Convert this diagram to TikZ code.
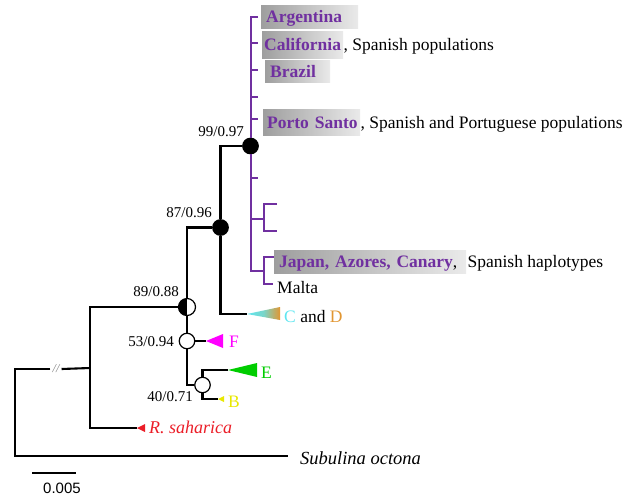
\documentclass[tikz,border=0pt]{standalone}
\usepackage{fontspec}
\setmainfont{Liberation Serif}
\newfontfamily\scalebarfont{Liberation Sans}

\definecolor{tipviolet}{RGB}{112,48,160}
\definecolor{boxdark}{RGB}{158,158,158}
\definecolor{boxlight}{RGB}{234,234,234}
\definecolor{cladeC}{RGB}{95,230,240}
\definecolor{cladeD}{RGB}{225,150,50}
\definecolor{cladeF}{RGB}{255,0,255}
\definecolor{cladeE}{RGB}{0,205,0}
\definecolor{cladeB}{RGB}{232,232,0}
\definecolor{sahred}{RGB}{235,30,40}

\tikzset{
  branch/.style={line width=2.1pt},
  purple branch/.style={line width=2pt, draw=tipviolet},
  support/.style={circle, draw, line width=1.2pt, fill=white, minimum size=15.5, inner sep=0},
  suplab/.style={font=\fontsize{15}{18}\selectfont, inner sep=0, anchor=base east},
  tiplab/.style={font=\fontsize{17.5}{21}\selectfont, inner sep=0, anchor=base west},
  hlbox/.style={font=\fontsize{17.5}{21}\selectfont\bfseries, text=tipviolet,
    left color=boxdark, right color=boxlight, anchor=base west, align=left,
    text height=13.5, text depth=2.5, inner ysep=0}
}

\begin{document}
\begin{tikzpicture}[x=1pt, y=-1pt]
  \useasboundingbox (0,0) rectangle (644,496);

  %Support nodes
  \node[support, fill=black] (n99) at (250.5,146) {};
  \node[support, fill=black] (n87) at (220.5,227.5) {};
  \node[support, minimum size=17, path picture={\fill[black] (path picture bounding box.south west) rectangle (path picture bounding box.north);}] (n89) at (187,307) {};
  \node[support] (n53) at (187,341) {};
  \node[support] (n40) at (202.5,385) {};

  %Tree points
  \coordinate (rootBot)  at (15,456);
  \coordinate (subTip)   at (288,456);
  \coordinate (ingroup)  at (90,368);
  \coordinate (sahTip)   at (137,428);
  \coordinate (cdTip)    at (247,314);
  \coordinate (fTip)     at (206,341);
  \coordinate (eTip)     at (228,370);
  \coordinate (bTip)     at (218,399);
  \node[text=gray, font=\fontsize{12}{14}\selectfont\itshape, inner xsep=2] (cut) at (56,369) {//};

  %Black branches
  \draw[branch] (cut.west) -| (rootBot) -- (subTip);
  \draw[branch] (cut.east) -- (ingroup);
  \draw[branch] (ingroup) |- (n89);
  \draw[branch] (ingroup) |- (sahTip);
  \draw[branch] (n89) |- (n87);
  \draw[branch] (n87) |- (n99);
  \draw[branch] (n87) |- (cdTip);
  \draw[branch] (n89) -- (n53);
  \draw[branch] (n53) |- (n40);
  \draw[branch] (n53) -- (fTip);
  \draw[branch] (n40) |- (eTip);
  \draw[branch] (n40) |- (bTip);

  %Purple clade
  \coordinate (sub1) at (264,219);
  \coordinate (sub2) at (264,271);
  \foreach \ty [count=\i] in {17,43,70,97,119,178}
    \coordinate (tip\i) at (258,\ty);
  \coordinate (tip7)  at (277,204);
  \coordinate (tip8)  at (277,231);
  \coordinate (tip9)  at (275,257);
  \coordinate (tip10) at (273,284);
  \draw[purple branch] (tip1) -| (n99);
  \draw[purple branch] (sub2) -| (n99);
  \foreach \i in {2,...,6}
    \draw[purple branch] (tip\i -| n99) -- (tip\i);
  \draw[purple branch] (sub1 -| n99) -- (sub1);
  \draw[purple branch] (tip7) -| (sub1) |- (tip8);
  \draw[purple branch] (tip9) -| (sub2) |- (tip10);

  %Collapsed clades
  \shade[left color=cladeC, right color=cladeD, middle color=cladeC!80!cladeD] (cdTip) -- ++(33,-7) -- ++(0,13) -- cycle;
  \fill[cladeF] (fTip) -- ++(17,-7) -- ++(0,14) -- cycle;
  \fill[cladeE] (eTip) -- ++(29,-7) -- ++(0,14) -- cycle;
  \fill[cladeB] (bTip) -- ++(6,-3) -- ++(0,6) -- cycle;
  \fill[sahred] (sahTip) -- ++(8,-4) -- ++(0,8) -- cycle;

  %Support values
  \node[suplab] (l99) at (244,136) {99/0.97};
  \node[suplab] (l87) at (212,217) {87/0.96};
  \node[suplab] (l89) at (179,296.5) {89/0.88};
  \node[suplab] (l53) at (174,346) {53/0.94};
  \node[suplab] (l40) at (193,401) {40/0.71};

  %Haplotype labels
  \node[hlbox, inner xsep=5, text width=87, minimum height=23] (arg) at (261,22) {Argentina};
  \node[hlbox, inner xsep=2, text width=77, minimum height=27] (cal) at (262,50) {California};
  \node[tiplab] (calsuf) at (cal.base east) {, Spanish populations};
  \node[hlbox, inner xsep=5, text width=55, minimum height=22] (bra) at (265,77) {Brazil};
  \node[hlbox, inner xsep=4, text width=89, minimum height=26] (por) at (263,128) {\mbox{Porto Santo}};
  \node[tiplab] (porsuf) at (por.base east) {, Spanish and Portuguese populations};
  \node[hlbox, inner xsep=5, text width=182, minimum height=23] (jap) at (274,267) {\mbox{Japan, Azores, Canary\textcolor{black}{\mdseries,}}};
  \node[tiplab] (japsuf) at ([xshift=1]jap.base east) {Spanish haplotypes};
  \node[tiplab] (mal) at (277,293) {Malta};

  %Clade labels
  \node[tiplab] (labCD) at (284,322) {\textcolor{cladeC}{C} and \textcolor{cladeD}{D}};
  \node[tiplab, text=cladeF] (labF) at (229,347) {F};
  \node[tiplab, text=cladeE] (labE) at (261,378) {E};
  \node[tiplab, text=cladeB] (labB) at (228,407) {B};
  \node[tiplab, text=sahred, font=\fontsize{18}{21}\selectfont\itshape] (labSah) at (149,433) {R. saharica};
  \node[tiplab, font=\fontsize{18.5}{21}\selectfont\itshape] (labSub) at (300,464) {Subulina octona};

  %Scale bar
  \coordinate (sbL) at (32,473);
  \coordinate (sbR) at (76,473);
  \draw[line width=2pt] (sbL) -- (sbR);
  \node[font=\fontsize{15}{18}\scalebarfont, inner sep=0, anchor=base] (sbLab) at (62,493) {0.005};
\end{tikzpicture}
\end{document}
